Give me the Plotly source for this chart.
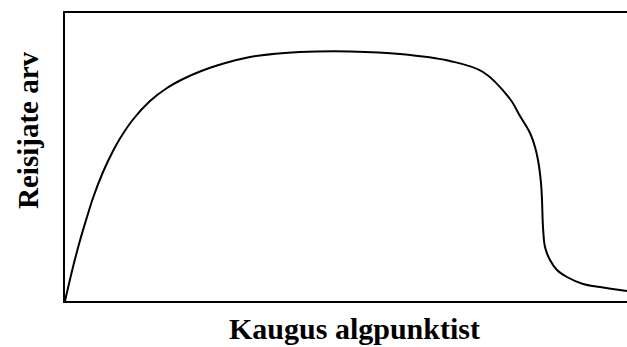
import plotly.graph_objects as go

# distance from origin (arbitrary units) and passenger count (arbitrary units)
distance = [0, 8, 15, 22, 28, 38, 48, 55, 68, 85, 102, 118, 135, 152, 185, 220, 252, 285,
            335, 385, 418, 445, 455, 465, 470, 473, 476, 477, 478, 480, 485, 492, 502, 518,
            535, 562]
passengers = [0, 34, 60.5, 84, 103, 129, 150, 162.5, 181.5, 200, 213, 222, 229.5, 235.5, 244,
              248, 249.5, 249.5, 247, 240, 229, 202, 185, 168, 154, 141, 118, 101, 74, 54, 41,
              31, 24, 17, 14, 10]

x_title = "Kaugus algpunktist"
y_title = "Reisijate arv"

fig = go.Figure(go.Scatter(
    x=distance, y=passengers, mode="lines",
    line=dict(color="black", width=2, shape="spline", smoothing=1.0),
    hoverinfo="skip",
))

fig.update_layout(
    width=627, height=347,
    margin=dict(l=65, r=0, t=13, b=46),
    paper_bgcolor="white", plot_bgcolor="white",
    showlegend=False,
    font=dict(family="Liberation Serif, Times New Roman, serif", color="black"),
    xaxis=dict(range=[0, 562], showgrid=False, zeroline=False, showticklabels=False,
               ticks="", showline=True, linecolor="black", linewidth=2, mirror=True),
    yaxis=dict(range=[0, 288], showgrid=False, zeroline=False, showticklabels=False,
               ticks="", showline=True, linecolor="black", linewidth=2, mirror=False),
    annotations=[
        dict(text="<b>" + x_title + "</b>", xref="paper", yref="paper", x=0.516, y=-0.097,
             showarrow=False, xanchor="center", yanchor="middle",
             font=dict(size=30, family="Liberation Serif", color="black")),
        dict(text="<b>" + y_title + "</b>", xref="paper", yref="paper", x=-0.0658, y=0.594,
             showarrow=False, xanchor="center", yanchor="middle", textangle=-90,
             font=dict(size=29, family="Liberation Serif", color="black")),
    ],
)

fig.write_html("out.html", config={"displayModeBar": False},
               post_script="document.body.style.margin='0';document.body.style.overflow='hidden';")
